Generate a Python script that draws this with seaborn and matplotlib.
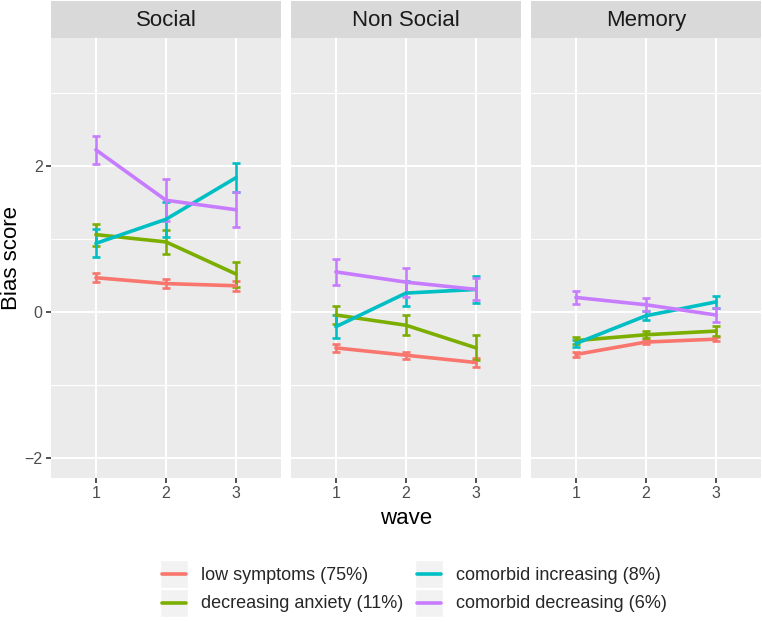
import matplotlib
matplotlib.use("Agg")
import matplotlib.pyplot as plt
from matplotlib.lines import Line2D
from matplotlib.patches import Rectangle
import seaborn as sns
import pandas as pd

# data
panels = ["Social", "Non Social", "Memory"]
groups = ["low symptoms (75%)", "decreasing anxiety (11%)",
          "comorbid increasing (8%)", "comorbid decreasing (6%)"]
colors = ["#F8766D", "#7CAE00", "#00BFC4", "#C77CFF"]
waves = [1, 2, 3]

social_mean = [[0.47, 0.39, 0.36], [1.06, 0.96, 0.52], [0.94, 1.27, 1.84], [2.22, 1.53, 1.40]]
social_err = [[0.065, 0.06, 0.07], [0.15, 0.16, 0.17], [0.19, 0.24, 0.20], [0.19, 0.29, 0.24]]
nonsocial_mean = [[-0.49, -0.59, -0.69], [-0.04, -0.18, -0.49], [-0.20, 0.26, 0.31], [0.55, 0.41, 0.31]]
nonsocial_err = [[0.06, 0.05, 0.06], [0.125, 0.14, 0.17], [0.16, 0.17, 0.18], [0.18, 0.20, 0.15]]
memory_mean = [[-0.58, -0.41, -0.37], [-0.39, -0.31, -0.26], [-0.43, -0.05, 0.14], [0.20, 0.10, -0.04]]
memory_err = [[0.03, 0.03, 0.03], [0.05, 0.05, 0.07], [0.05, 0.065, 0.08], [0.09, 0.09, 0.10]]

means = [social_mean, nonsocial_mean, memory_mean]
errs = [social_err, nonsocial_err, memory_err]

rows = []
for p, panel in enumerate(panels):
    for g, group in enumerate(groups):
        for w, wave in enumerate(waves):
            rows.append({"panel": panel, "group": group, "wave": wave,
                         "score": means[p][g][w], "se": errs[p][g][w]})
df = pd.DataFrame(rows)

sns.set_theme(style="darkgrid")
plt.rcParams["font.family"] = ["Liberation Sans", "DejaVu Sans"]


class KeyHandler:
    # ggplot-like legend key: grey square with a coloured line across it
    def legend_artist(self, legend, orig_handle, fontsize, handlebox):
        x0, y0 = handlebox.xdescent, handlebox.ydescent
        w, h = handlebox.width, handlebox.height
        box = Rectangle((-x0, -y0), w, h, facecolor="#F2F2F2", edgecolor="white",
                        linewidth=1.0, transform=handlebox.get_transform())
        ymid = -y0 + h / 2
        line = Line2D([-x0 + 0.08 * w, -x0 + 0.92 * w], [ymid, ymid],
                      color=orig_handle.get_color(), linewidth=2.6,
                      transform=handlebox.get_transform())
        handlebox.add_artist(box)
        handlebox.add_artist(line)
        return box


W, H = 762, 622
fig = plt.figure(figsize=(W / 100, H / 100), dpi=100)
fig.patch.set_facecolor("white")

panel_left = [51, 291, 531]
panel_w = 230
top, bottom = 38, 478
strip_top = 1

palette = dict(zip(groups, colors))
axes = []
for i, panel in enumerate(panels):
    ax = fig.add_axes([panel_left[i] / W, (H - bottom) / H, panel_w / W, (bottom - top) / H])
    axes.append(ax)
    ax.set_facecolor("#EBEBEB")
    sub = df[df["panel"] == panel]
    for g, group in enumerate(groups):
        d = sub[sub["group"] == group]
        ax.errorbar(d["wave"], d["score"], yerr=d["se"], fmt="none",
                    ecolor=colors[g], elinewidth=1.9, capsize=3.0, capthick=1.9, zorder=3)
    sns.lineplot(data=sub, x="wave", y="score", hue="group", palette=palette,
                 hue_order=groups, errorbar=None, linewidth=2.6, legend=False, ax=ax, zorder=4)
    ax.set_xlim(0.36, 3.64)
    ax.set_ylim(-2.27, 3.75)
    ax.set_xticks(waves)
    ax.set_yticks([-2, 0, 2])
    ax.set_yticks([-1, 1, 3], minor=True)
    ax.grid(True, which="major", color="white", linewidth=1.5)
    ax.grid(True, which="minor", axis="y", color="white", linewidth=0.8)
    ax.tick_params(axis="both", which="major", length=3.5, width=1.2, color="#333333",
                   labelcolor="#4D4D4D", labelsize=11.5, pad=2.5, direction="out",
                   bottom=True, left=True)
    ax.tick_params(axis="y", which="minor", length=0)
    for s in ax.spines.values():
        s.set_visible(False)
    ax.set_xlabel("")
    ax.set_ylabel("")
    if i > 0:
        ax.tick_params(axis="y", which="major", left=False, labelleft=False)

    # facet strip
    sax = fig.add_axes([panel_left[i] / W, (H - top) / H, panel_w / W, (top - strip_top) / H])
    sax.set_facecolor("#D9D9D9")
    sax.set_xticks([])
    sax.set_yticks([])
    for s in sax.spines.values():
        s.set_visible(False)
    sax.text(0.5, 0.47, panel, ha="center", va="center", fontsize=16, color="#1A1A1A",
             transform=sax.transAxes)

fig.text(12 / W, 1 - 258 / H, "Bias score", rotation=90, ha="center", va="center",
         fontsize=16, color="black")
fig.text(406 / W, 1 - 519 / H, "wave", ha="center", va="center", fontsize=16, color="black")

handles = [Line2D([0], [0], color=c) for c in colors]
fig.legend(handles, groups, ncol=2, handler_map={Line2D: KeyHandler()},
           loc="upper left", bbox_to_anchor=(160 / W, 1 - 560 / H), frameon=False,
           fontsize=13, handlelength=1.55, handleheight=2.0, handletextpad=0.72,
           columnspacing=0.66, labelspacing=0.05, borderpad=0, borderaxespad=0)

fig.savefig("out.png", dpi=100, facecolor="white")
